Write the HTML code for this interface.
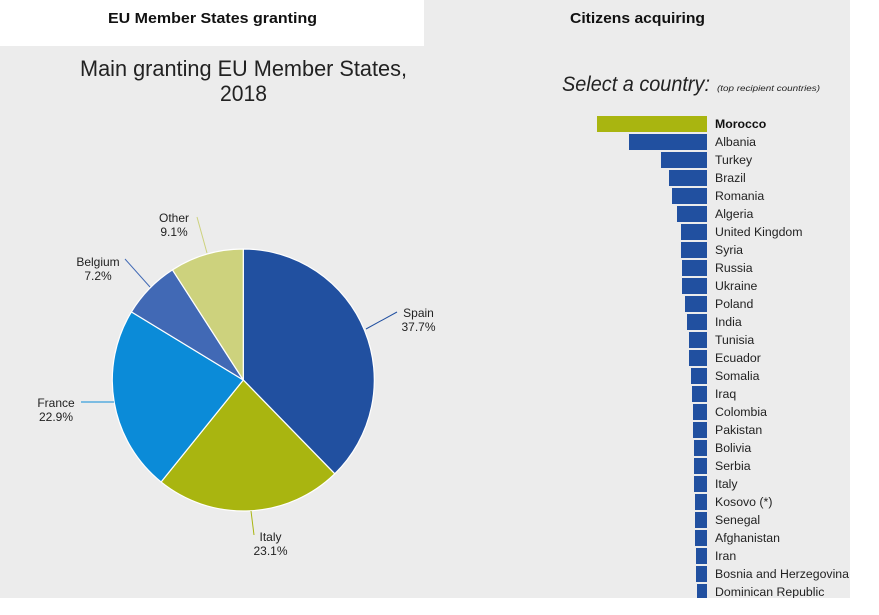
<!DOCTYPE html>
<html><head><meta charset="utf-8"><style>
html,body{margin:0;padding:0;background:#fff;}
svg{display:block;}
</style></head><body>
<svg width="879" height="615" viewBox="0 0 879 615" xmlns="http://www.w3.org/2000/svg">
<defs><clipPath id="c"><rect x="0" y="0" width="850" height="598"/></clipPath></defs>
<rect x="0" y="0" width="879" height="615" fill="#ffffff"/>
<rect x="0" y="0" width="850" height="598" fill="#ececec"/>
<rect x="0" y="0" width="424" height="46" fill="#ffffff"/>
<g font-family="Liberation Sans, sans-serif" fill="#111">
<text x="212.5" y="23" font-size="15" font-weight="bold" text-anchor="middle" textLength="209" lengthAdjust="spacingAndGlyphs">EU Member States granting</text>
<text x="637.5" y="23" font-size="15" font-weight="bold" text-anchor="middle" textLength="135" lengthAdjust="spacingAndGlyphs">Citizens acquiring</text>
<text x="243.5" y="76" font-size="22" text-anchor="middle" fill="#222" textLength="327" lengthAdjust="spacingAndGlyphs">Main granting EU Member States,</text>
<text x="243.5" y="101" font-size="22" text-anchor="middle" fill="#222" textLength="47" lengthAdjust="spacingAndGlyphs">2018</text>
<text x="562" y="91" font-size="21" font-style="italic" fill="#222" textLength="148" lengthAdjust="spacingAndGlyphs">Select a country:</text>
<text x="717" y="91" font-size="8" font-style="italic" fill="#222" textLength="103" lengthAdjust="spacingAndGlyphs">(top recipient countries)</text>
</g>
<!-- pie -->
<g stroke="#ffffff" stroke-width="1.2" stroke-linejoin="round">
<path d="M243.3,380 L243.3,249 A131,131 0 0 1 334.74,473.81 Z" fill="#2150a0"/>
<path d="M243.3,380 L334.74,473.81 A131,131 0 0 1 161.07,481.97 Z" fill="#a9b510"/>
<path d="M243.3,380 L161.07,481.97 A131,131 0 0 1 131.39,311.89 Z" fill="#0b8bd8"/>
<path d="M243.3,380 L131.39,311.89 A131,131 0 0 1 172.42,269.83 Z" fill="#4169b5"/>
<path d="M243.3,380 L172.42,269.83 A131,131 0 0 1 243.3,249 Z" fill="#cdd27d"/>
</g>
<g stroke-width="1" fill="none">
<line x1="366" y1="329" x2="397" y2="312" stroke="#2150a0"/>
<line x1="251" y1="511" x2="254" y2="535" stroke="#a9b510"/>
<line x1="81" y1="402" x2="114" y2="402" stroke="#0b8bd8"/>
<line x1="125" y1="259" x2="150" y2="287" stroke="#4169b5"/>
<line x1="197" y1="217" x2="207" y2="253" stroke="#cdd27d"/>
</g>
<g font-family="Liberation Sans, Arial, sans-serif" font-size="12" fill="#222" text-anchor="middle">
<text x="418.5" y="317">Spain</text><text x="418.5" y="331">37.7%</text>
<text x="270.5" y="541">Italy</text><text x="270.5" y="555">23.1%</text>
<text x="56" y="407">France</text><text x="56" y="421">22.9%</text>
<text x="98" y="266">Belgium</text><text x="98" y="280">7.2%</text>
<text x="174" y="222">Other</text><text x="174" y="236">9.1%</text>
</g>
<!-- bars -->
<g clip-path="url(#c)">
<rect x="597" y="116" width="110" height="16" fill="#a9b510"/>
<g fill="#2150a0">
<rect x="629" y="134" width="78" height="16"/>
<rect x="661" y="152" width="46" height="16"/>
<rect x="669" y="170" width="38" height="16"/>
<rect x="672" y="188" width="35" height="16"/>
<rect x="677" y="206" width="30" height="16"/>
<rect x="681" y="224" width="26" height="16"/>
<rect x="681" y="242" width="26" height="16"/>
<rect x="682" y="260" width="25" height="16"/>
<rect x="682" y="278" width="25" height="16"/>
<rect x="685" y="296" width="22" height="16"/>
<rect x="687" y="314" width="20" height="16"/>
<rect x="689" y="332" width="18" height="16"/>
<rect x="689" y="350" width="18" height="16"/>
<rect x="691" y="368" width="16" height="16"/>
<rect x="692" y="386" width="15" height="16"/>
<rect x="693" y="404" width="14" height="16"/>
<rect x="693" y="422" width="14" height="16"/>
<rect x="694" y="440" width="13" height="16"/>
<rect x="694" y="458" width="13" height="16"/>
<rect x="694" y="476" width="13" height="16"/>
<rect x="695" y="494" width="12" height="16"/>
<rect x="695" y="512" width="12" height="16"/>
<rect x="695" y="530" width="12" height="16"/>
<rect x="696" y="548" width="11" height="16"/>
<rect x="696" y="566" width="11" height="16"/>
<rect x="697" y="584" width="10" height="16"/>
</g>
<g font-family="Liberation Sans, sans-serif" font-size="12.3" fill="#222">
<text x="715" y="128" font-weight="bold" fill="#111">Morocco</text>
<text x="715" y="146">Albania</text>
<text x="715" y="164">Turkey</text>
<text x="715" y="182">Brazil</text>
<text x="715" y="200">Romania</text>
<text x="715" y="218">Algeria</text>
<text x="715" y="236">United Kingdom</text>
<text x="715" y="254">Syria</text>
<text x="715" y="272">Russia</text>
<text x="715" y="290">Ukraine</text>
<text x="715" y="308">Poland</text>
<text x="715" y="326">India</text>
<text x="715" y="344">Tunisia</text>
<text x="715" y="362">Ecuador</text>
<text x="715" y="380">Somalia</text>
<text x="715" y="398">Iraq</text>
<text x="715" y="416">Colombia</text>
<text x="715" y="434">Pakistan</text>
<text x="715" y="452">Bolivia</text>
<text x="715" y="470">Serbia</text>
<text x="715" y="488">Italy</text>
<text x="715" y="506">Kosovo (*)</text>
<text x="715" y="524">Senegal</text>
<text x="715" y="542">Afghanistan</text>
<text x="715" y="560">Iran</text>
<text x="715" y="578">Bosnia and Herzegovina</text>
<text x="715" y="596">Dominican Republic</text>
</g>
</g>
</svg>
</body></html>
